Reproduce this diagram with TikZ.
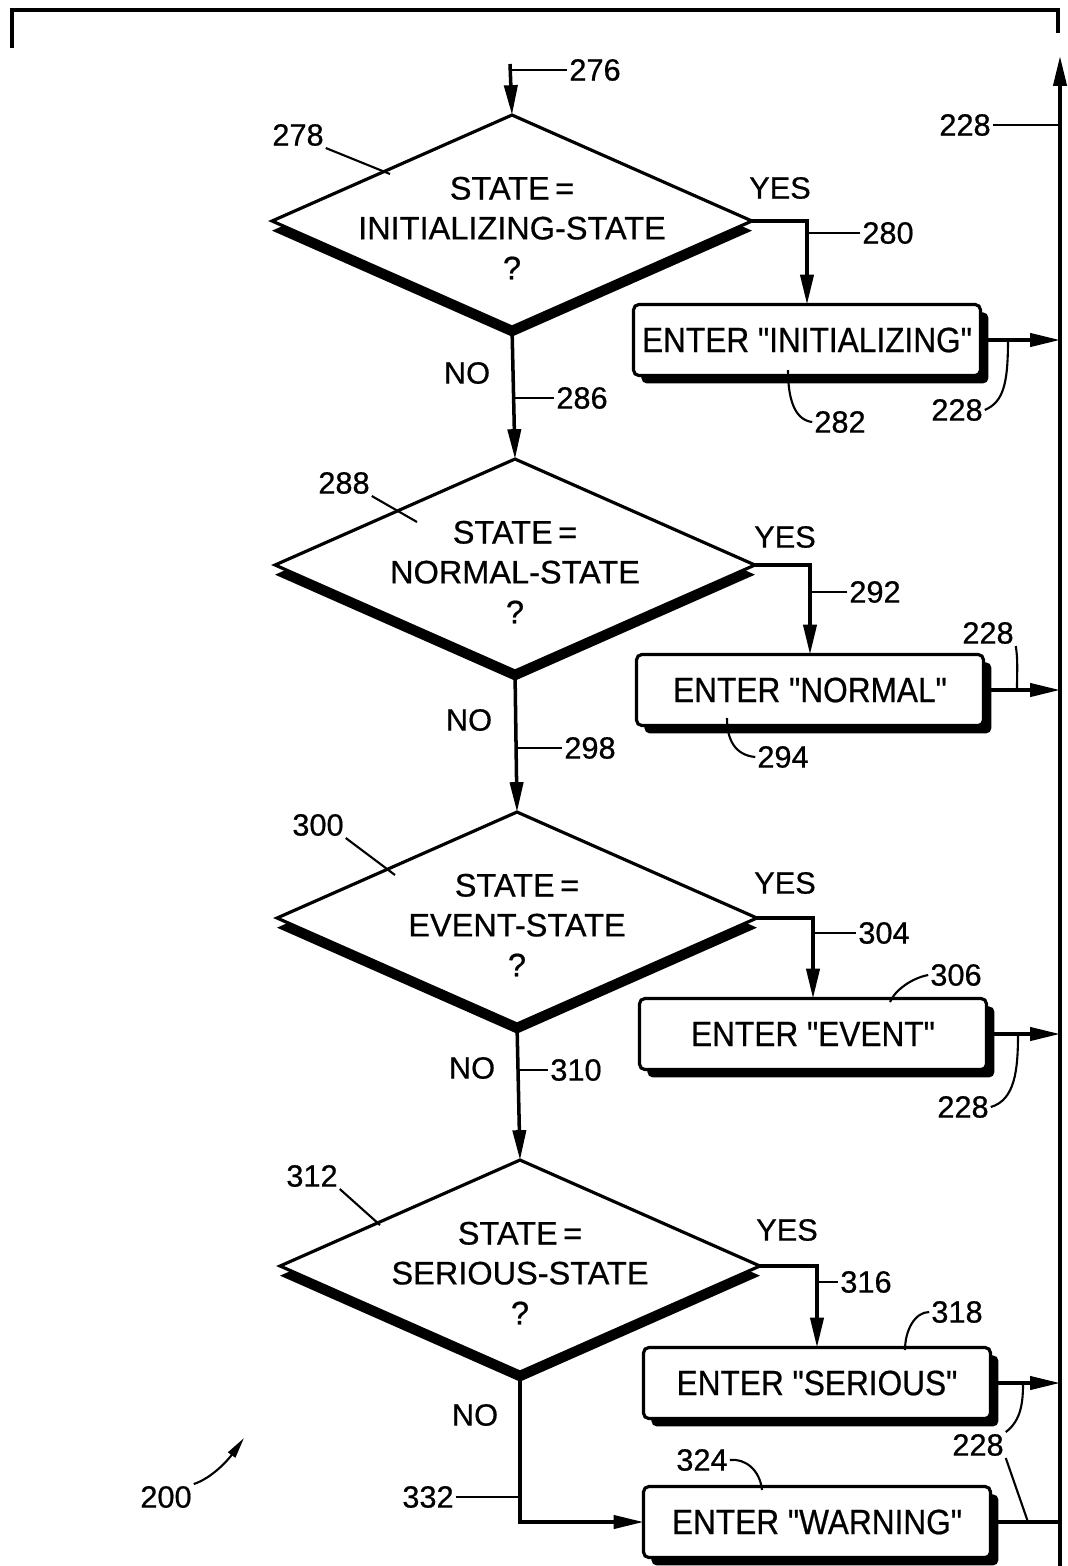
\documentclass[tikz,border=0pt]{standalone}
\usepackage{fontspec}
\setmainfont{Liberation Sans}[FakeBold=0.6]
\newfontfamily\boxfont[FakeStretch=0.9, FakeBold=0.6]{Liberation Sans}
\usetikzlibrary{shapes.geometric,arrows.meta,shadows}

\begin{document}
\begin{tikzpicture}[
  x=0.02cm, y=-0.02cm,
  decision/.style={diamond, draw, line width=1.8pt, fill=white, inner sep=0pt, outer sep=0pt,
                   minimum width=9.6cm, minimum height=4.24cm,
                   drop shadow={shadow xshift=0pt, shadow yshift=-5.5pt, opacity=1, fill=black}},
  dtext/.style={align=center, font=\fontsize{18.5}{22.7}\selectfont},
  action/.style={rectangle, draw, line width=1.8pt, fill=white, rounded corners=3pt, outer sep=0pt,
                 minimum width=6.94cm, minimum height=1.42cm, font=\boxfont\fontsize{20}{24}\selectfont,
                 drop shadow={shadow xshift=4.5pt, shadow yshift=-4.5pt, opacity=1, fill=black}},
  conn/.style={-{Triangle[length=17pt, width=7.5pt]}, line width=2pt},
  flow/.style={line width=2pt},
  leader/.style={line width=1.2pt},
  lbl/.style={font=\fontsize{17.5}{21}\selectfont, inner sep=1pt}
]
\useasboundingbox (0,0) rectangle (1068,1566);

% Frame and return rail
\draw[flow] (12,48) -- (12,10) -- (1058,10) -- (1058,33);
\coordinate (railbot) at (1060,1566);
\coordinate (railtop) at (1060,56);
\draw[conn] (railbot) -- (railtop);
\node[lbl] (n228a) at (965,125) {228};
\draw[leader] (n228a.east) -- (n228a.east -| railtop);

% Decisions
\node[decision] (d1) at (512,221) {};
\node[decision] (d2) at (515,565) {};
\node[decision] (d3) at (517,918) {};
\node[decision] (d4) at (520,1266) {};
\node[dtext] (q1) at ([yshift=-4pt]d1.center) {STATE\,=\\INITIALIZING-STATE\\?};
\node[dtext] (q2) at ([yshift=-4pt]d2.center) {STATE\,=\\NORMAL-STATE\\?};
\node[dtext] (q3) at ([yshift=-4pt]d3.center) {STATE\,=\\EVENT-STATE\\?};
\node[dtext] (q4) at ([yshift=-4pt]d4.center) {STATE\,=\\SERIOUS-STATE\\?};

% Actions
\node[action] (b1) at (807,340)  {ENTER "INITIALIZING"};
\node[action] (b2) at (810,690)  {ENTER "NORMAL"};
\node[action] (b3) at (813,1034) {ENTER "EVENT"};
\node[action] (b4) at (817,1383) {ENTER "SERIOUS"};
\node[action] (b5) at (817,1522) {ENTER "WARNING"};

% Entry
\coordinate (entry) at (510,64);
\draw[conn] (entry) -- (d1.north);
\node[lbl] (n276) at (595,70) {276};
\draw[leader] (n276.west) -- (n276.west -| entry);

% NO branches
\draw[conn] (d1.south) -- (d2.north);
\draw[conn] (d2.south) -- (d3.north);
\draw[conn] (d3.south) -- (d4.north);
\draw[conn] (d4.south) |- (b5.west);
\node[lbl] (no1) at (467,373)  {NO};
\node[lbl] (no2) at (469,720)  {NO};
\node[lbl] (no3) at (472,1068) {NO};
\node[lbl] (no4) at (475,1415) {NO};

% YES branches
\draw[conn] (d1.east) -| (b1.north);
\draw[conn] (d2.east) -| (b2.north);
\draw[conn] (d3.east) -| (b3.north);
\draw[conn] (d4.east) -| (b4.north);
\node[lbl] (yes1) at (780,188)  {YES};
\node[lbl] (yes2) at (785,537)  {YES};
\node[lbl] (yes3) at (785,883)  {YES};
\node[lbl] (yes4) at (787,1230) {YES};

% Actions -> rail
\draw[conn] (b1.east) -- (b1.east -| railtop);
\draw[conn] (b2.east) -- (b2.east -| railtop);
\draw[conn] (b3.east) -- (b3.east -| railtop);
\draw[conn] (b4.east) -- (b4.east -| railtop);
\draw[flow] (b5.east) -- (b5.east -| railtop);

% Reference numerals on flow lines
\node[lbl] (n280) at (888,233)  {280};
\draw[leader] (n280.west) -- (n280.west -| b1.north);
\node[lbl] (n286) at (582,398)  {286};
\draw[leader] (n286.west) -- (n286.west -| d1.south);
\node[lbl] (n292) at (875,592)  {292};
\draw[leader] (n292.west) -- (n292.west -| b2.north);
\node[lbl] (n298) at (590,748)  {298};
\draw[leader] (n298.west) -- (n298.west -| d2.south);
\node[lbl] (n304) at (884,933)  {304};
\draw[leader] (n304.west) -- (n304.west -| b3.north);
\node[lbl] (n310) at (576,1070) {310};
\draw[leader] (n310.west) -- (n310.west -| d3.south);
\node[lbl] (n316) at (866,1282) {316};
\draw[leader] (n316.west) -- (n316.west -| b4.north);
\node[lbl] (n332) at (428,1497) {332};
\draw[leader] (n332.east) -- (n332.east -| d4.south);

% Reference numerals on decisions
\node[lbl] (n278) at (298,135)  {278};
\draw[leader] (n278.south east) -- (390,174);
\node[lbl] (n288) at (344,483)  {288};
\draw[leader] (n288.south east) -- (417,522);
\node[lbl] (n300) at (318,825)  {300};
\draw[leader] (n300.south east) -- (395,875);
\node[lbl] (n312) at (312,1176) {312};
\draw[leader] (n312.south east) -- (380,1225);

% Reference numerals on actions
\node[lbl] (n282) at (840,422) {282};
\draw[leader] (n282.west) .. controls (795,420) and (788,400) .. (788,370);
\node[lbl] (n294) at (783,757) {294};
\draw[leader] (n294.west) .. controls (735,755) and (727,740) .. (727,718);
\node[lbl] (n306) at (956,975) {306};
\draw[leader] (n306.west) .. controls (912,978) and (895,990) .. (890,1002);
\node[lbl] (n318) at (957,1312) {318};
\draw[leader] (n318.west) .. controls (915,1312) and (905,1330) .. (905,1350);
\node[lbl] (n324) at (702,1460) {324};
\draw[leader] (n324.east) .. controls (745,1458) and (760,1470) .. (762,1490);

% 228 on each exit
\node[lbl] (n228b) at (957,410)  {228};
\draw[leader] (n228b.east) .. controls (1003,402) and (1008,385) .. (1008,340);
\node[lbl] (n228c) at (988,633)  {228};
\draw[leader] (n228c.south east) .. controls (1018,660) and (1017,670) .. (1017,690);
\node[lbl] (n228d) at (963,1107) {228};
\draw[leader] (n228d.east) .. controls (1015,1100) and (1018,1070) .. (1018,1034);
\node[lbl] (n228e) at (978,1445) {228};
\draw[leader] (n228e.north east) .. controls (1022,1420) and (1023,1400) .. (1023,1383);
\draw[leader] (n228e.south east) -- (1028,1522);

% Figure number
\node[lbl] (n200) at (166,1497) {200};
\draw[leader, -{Triangle[length=12pt, width=5pt]}] (n200.north east) .. controls (212,1478) and (228,1460) .. (244,1438);
\end{tikzpicture}
\end{document}
